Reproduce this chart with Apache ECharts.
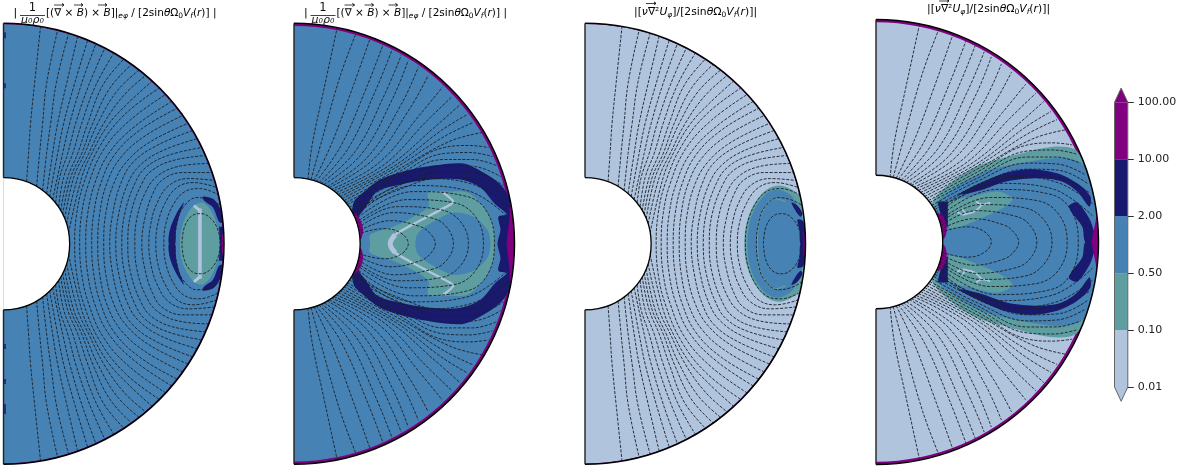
<!DOCTYPE html>
<html>
<head>
<meta charset="utf-8">
<style>
    html, body { margin: 0; padding: 0; background: #fff; }
    #chart { width: 1200px; height: 471px; }
</style>
</head>
<body>
<div id="chart"></div>
<script src="https://cdn.jsdelivr.net/npm/echarts@6/dist/echarts.min.js"></script>
<script>
// all points are [x, z], outer radius = 220, only the upper half is listed
const rInner = 66
const rOuter = 220

// field lines of panels 1 and 3
const linesFootA = [
    [[23,62],[25,90],[27,120],[31,160],[37,217]],
    [[33,57],[36,90],[39,120],[43,160],[54,213]],
    [[39,53],[43,90],[47,120],[53,162],[65,210]],
    [[43,50],[49,90],[54,120],[63,160],[74,207]],
    [[46,47],[54,90],[60,120],[71,160],[84,203]],
    [[49,44],[59,90],[66,120],[78,160],[92,199]],
    [[52,41],[56,66],[64,90],[72,120],[85,158],[101,195]],
    [[55,37],[60,66],[69,90],[78,120],[92,158],[110,190]],
    [[57,33],[64,66],[74,90],[84,120],[99,158],[120,184]],
    [[59,29],[67,66],[78,90],[89,120],[106,155],[128,179]],
    [[61,25],[70,66],[81,90],[94,120],[113,152],[135,173]],
    [[63,20],[74,66],[85,90],[100,120],[120,148],[142,168]],
    [[65,11],[78,66],[88,90],[104,118],[124,140],[148,162]]
]
const linesCrossA = [
    [[71,0],[73,30],[80,60],[96,97],[121,129],[155,155]],
    [[76,0],[78,30],[85,60],[100,94],[126,123],[162,149]],
    [[82,0],[84,30],[91,60],[105,90],[131,117],[168,142]],
    [[88,0],[90,30],[97,60],[111,89],[137,114],[173,135]],
    [[94,0],[96,30],[103,60],[117,86],[142,108],[179,128]],
    [[100,0],[102,30],[110,60],[123,82],[147,102],[184,120]],
    [[106,0],[109,30],[117,60],[129,81],[153,98],[189,113]],
    [[112,0],[115,30],[124,60],[136,78],[159,93],[194,105]],
    [[118,0],[121,30],[131,60],[142,76],[164,88],[198,96]],
    [[124,0],[127,30],[138,60],[148,73],[169,83],[202,88]],
    [[131,0],[133,25],[141,50],[153,67],[174,77],[205,80]],
    [[138,0],[141,25],[149,50],[159,64],[179,71],[208,71]],
    [[145,0],[147,20],[153,40],[165,58],[185,65],[211,63]],
    [[152,0],[154,20],[161,40],[173,56],[190,61],[213,56]],
    [[160,0],[162,20],[170,40],[181,52],[196,55],[214,49]],
    [[171,0],[173,20],[179,36],[193,46],[205,44],[217,38]],
    [[178,0],[181,18],[190,29],[197,30],[208,24],[215,10],[216,0],[215,-10],[208,-24],[197,-30],[190,-29],[181,-18],[178,0]]
]

// field lines of panels 2 and 4
const linesCrossB = [
    [[114,0],[106,11],[89,15],[65,10]],
    [[141,0],[136,10],[126,17],[96,23],[65,13]],
    [[159,0],[151,18],[136,26],[99,31],[64,16]],
    [[174,0],[166,22],[146,34],[103,37],[63,19]],
    [[189,0],[181,27],[159,41],[113,44],[62,21]],
    [[200,0],[193,31],[173,47],[119,52],[61,24]]
]
const linesFanB = [
    [[60,27],[119,58],[173,53],[214,26]],
    [[59,29],[129,65],[179,59],[214,38]],
    [[58,32],[100,52],[150,66],[180,64],[212,48]],
    [[57,34],[100,56],[150,72],[180,71],[209,58]],
    [[55,36],[100,60],[150,78],[180,77],[206,67]],
    [[53,39],[100,63],[150,84],[178,84],[202,78]],
    [[52,41],[100,66],[150,90],[175,91],[198,87]],
    [[50,43],[100,69],[150,96],[175,98],[194,96]],
    [[48,45],[100,72],[155,102],[188,111]],
    [[46,47],[100,75],[150,107],[179,121]],
    [[44,49],[99,77],[147,113],[173,129]],
    [[42,51],[95,78],[140,116],[166,139]],
    [[40,53],[90,79],[132,122],[158,147]],
    [[37,54],[85,81],[125,128],[148,156]],
    [[35,56],[79,84],[115,134],[134,168]],
    [[33,57],[73,86],[107,139],[124,176]],
    [[30,59],[67,89],[98,144],[114,183]],
    [[27,60],[61,92],[90,148],[107,188]],
    [[25,61],[54,95],[81,152],[98,194]],
    [[22,62],[47,98],[72,155],[89,199]],
    [[20,63],[38,101],[60,160],[76,205]],
    [[17,64],[28,104],[46,167],[62,210]],
    [[14,64],[18,98],[30,155],[43,215]]
]

// contour regions, panel 1
const p1Green = [[176,0],[179,20],[188,36],[198,41],[207,33],[214,15],[216,0]]
const p1NavyLeft = [[180,41],[172,29],[166,14],[165,0],[171,0],[172,14],[175,27]]
const p1NavyRight = [[199,47],[210,44],[218,31],[219,21],[215,22],[209,36],[200,43]]
const p1NavyRim = [[215,17],[222,17],[222,0],[216,0]]
const p1Purple = [[218,10],[222,10],[222,0],[218,0]]
const p1BarA = [[196,35],[196,0],[196,-35]]
const p1BarB = [[190,38],[196,33]]
const p1EdgeSpots = [[211,205],[160,155],[-100,-105],[-135,-140],[-160,-170]]

// contour regions, panel 2
const p2Navy = [[58,31],[60,42],[69,51],[86,64],[113,73],[139,78],[169,80],[189,71],[206,59],[214,47],[219,25],[220,0]]
const p2Blue = [[60,0],[62,22],[72,37],[83,52],[106,59],[136,64],[166,64],[186,56],[201,39],[211,31],[212,29],[204,27],[206,14],[203,0]]
const p2Green = [[76,0],[76,9],[96,16],[114,24],[134,37],[134,51],[153,52],[173,51],[189,37],[199,17],[200,0]]
const p2Core = [[121,0],[124,11],[139,22],[159,31],[179,27],[193,14],[196,0]]
const p2PurpleOut = [[216,50],[215,25],[212,0],[222,0],[222,50]]
const p2PurpleIn = [[60,30],[65,26],[69,14],[66,4],[55,4]]
const p2Ridge = [[96,0],[101,9],[118,19],[156,39],[159,42],[149,51]]
const p2RidgeNose = [[101,9],[96,0],[101,-9]]

// contour regions, panel 3
const p3Green = [[159,0],[161,20],[168,38],[180,53],[193,58],[206,54],[216,45],[219,25],[220,0]]
const p3Blue = [[162,0],[164,20],[170,36],[181,50],[193,54],[203,50],[208,45],[216,28],[220,0]]
const p3NavyA = [[206,41],[212,38],[217,30],[215,27],[210,33]]
const p3NavyB = [[212,24],[218,22],[220,0],[215,0],[214,14]]
const p3Arc = [[172,0],[173,21],[180,37],[190,45],[200,42]]
const p3Purple = [[218,12],[222,12],[222,0],[218,0]]

// contour regions, panel 4
const p4GreenOut = [[52,0],[56,40],[94,72],[134,85],[173,94],[196,92],[206,78],[219,50],[220,0]]
const p4Blue = [[55,0],[60,38],[104,68],[144,78],[181,83],[203,78],[218,55],[220,0]]
const p4NavyArc = [[82,47],[103,58],[127,68],[153,72],[179,68],[199,58],[212,45],[211,35],[199,50],[183,60],[160,63],[130,60],[103,51]]
const p4NavyBlob = [[191,36],[199,39],[211,23],[216,9],[218,0],[207,0],[204,15],[193,30]]
const p4GreenIn = [[70,38],[94,45],[120,50],[135,43],[128,35],[103,23],[74,13],[70,21]]
const p4NavyBlock = [[61,40],[71,40],[71,14],[65,22]]
const p4PurpleIn = [[60,28],[66,26],[70,14],[67,3],[55,3]]
const p4PurpleOut = [[222,28],[218,25],[213,0],[222,0]]
const p4TwigA = [[99,40],[105,37],[113,39]]
const p4TwigB = [[105,37],[97,30],[90,28],[85,33]]
const p4TwigC = [[79,30],[87,27],[90,28]]

// colour bar
const cbTicks = ['0.01', '0.10', '0.50', '2.00', '10.00', '100.00']
const cLight = '#b0c4de'
const cGreen = '#5f9ea0'
const cBlue = '#4682b4'
const cNavy = '#191970'
const cPurple = '#800080'
const cbColors = [cLight, cGreen, cBlue, cNavy, cPurple]

const grids = [], xAxes = [], yAxes = [], series = []

function mirrorClosed(pts) {
    const lower = pts.filter(p => p[1] !== 0).map(p => [p[0], -p[1]]).reverse()
    return pts.concat(lower)
}
function flip(pts) {
    return pts.map(p => [p[0], -p[1]])
}
function through(pts) {
    const lower = pts.filter(p => p[1] !== 0).map(p => [p[0], -p[1]]).reverse()
    return lower.concat(pts)
}

function customShape(g, z, render) {
    series.push({
        type: 'custom',
        coordinateSystem: 'cartesian2d',
        xAxisIndex: g,
        yAxisIndex: g,
        z: z,
        silent: true,
        animation: false,
        data: [[0, 0]],
        renderItem: render
    })
}
function fillPoly(g, pts, color, smooth) {
    customShape(g, 2, (p, api) => ({
        type: 'polygon',
        shape: { points: pts.map(q => api.coord(q)), smooth: smooth === undefined ? 0.3 : smooth },
        style: { fill: color }
    }))
}
function ring(g, z, r0, r, color) {
    customShape(g, z, (p, api) => {
        const c = api.coord([0, 0])
        return {
            type: 'sector',
            shape: {
                cx: c[0], cy: c[1],
                r0: api.size([r0, 0])[0], r: api.size([r, 0])[0],
                startAngle: -Math.PI / 2, endAngle: Math.PI / 2, clockwise: true
            },
            style: { fill: color }
        }
    })
}
function arcLine(g, r, color, width) {
    customShape(g, 6, (p, api) => {
        const c = api.coord([0, 0])
        return {
            type: 'arc',
            shape: {
                cx: c[0], cy: c[1], r: api.size([r, 0])[0],
                startAngle: -Math.PI / 2, endAngle: Math.PI / 2, clockwise: true
            },
            style: { stroke: color, lineWidth: width, fill: null }
        }
    })
}
function addLine(g, pts, style, z, smooth) {
    series.push({
        type: 'line',
        xAxisIndex: g,
        yAxisIndex: g,
        data: pts,
        z: z,
        smooth: smooth,
        clip: false,
        silent: true,
        animation: false,
        showSymbol: false,
        lineStyle: style
    })
}
function stroke(g, pts, color, width, smooth) {
    addLine(g, pts, { color: color, width: width, type: 'solid' }, 3, smooth === undefined ? 0.3 : smooth)
}

const dash = { color: '#1a2028', width: 1, type: [3, 1.5], opacity: 0.9 }

function addPanel(g, left, cy, R, base, rimFrom, fills, strokes, fam) {
    grids.push({ left: left, top: cy - R, width: R, height: 2 * R })
    xAxes.push({ gridIndex: g, type: 'value', min: 0, max: rOuter, show: false })
    yAxes.push({ gridIndex: g, type: 'value', min: -rOuter, max: rOuter, show: false })
    ring(g, 2, 0, rOuter, base)
    ring(g, 2, rimFrom, rOuter, cPurple)
    fills()
    strokes()
    if (fam === 'A') {
        linesFootA.forEach(l => {
            addLine(g, l, dash, 4, 0.4)
            addLine(g, flip(l), dash, 4, 0.4)
        })
        linesCrossA.forEach(l => addLine(g, l[l.length - 1][1] === 0 ? l : through(l), dash, 4, 0.4))
    } else {
        linesCrossB.forEach(l => addLine(g, through(l), dash, 4, 0.4))
        linesFanB.forEach(l => {
            addLine(g, l, dash, 4, 0.4)
            addLine(g, flip(l), dash, 4, 0.4)
        })
    }
    // anything past the two circles is painted back to white
    ring(g, 5, 0, rInner, '#fff')
    ring(g, 5, rOuter, rOuter + 8, '#fff')
    arcLine(g, rOuter, '#000', 1.5)
    arcLine(g, rInner, '#000', 1.3)
    customShape(g, 6, (p, api) => {
        const a = api.coord([0, rInner]), b = api.coord([0, rOuter])
        const c = api.coord([0, -rInner]), d = api.coord([0, -rOuter])
        return {
            type: 'group',
            children: [
                { type: 'line', shape: { x1: a[0], y1: a[1], x2: b[0], y2: b[1] }, style: { stroke: '#222', lineWidth: 1.4 } },
                { type: 'line', shape: { x1: c[0], y1: c[1], x2: d[0], y2: d[1] }, style: { stroke: '#222', lineWidth: 1.4 } }
            ]
        }
    })
}

function twin(g, pts, color, smooth) {
    fillPoly(g, pts, color, smooth)
    fillPoly(g, flip(pts), color, smooth)
}

addPanel(0, 3.5, 243.7, 220.5, cBlue, 219, () => {
    fillPoly(0, mirrorClosed(p1Green), cGreen)
    twin(0, p1NavyLeft, cNavy)
    twin(0, p1NavyRight, cNavy)
    twin(0, p1NavyRim, cNavy, 0)
    twin(0, p1Purple, cPurple, 0)
}, () => {
    stroke(0, p1BarA, cLight, 3.6, 0)
    stroke(0, p1BarB, cLight, 3, 0)
    stroke(0, flip(p1BarB), cLight, 3, 0)
    p1EdgeSpots.forEach(s => stroke(0, [[1.5, s[0]], [1.5, s[1]]], cNavy, 1.5, 0))
}, 'A')

addPanel(1, 294, 243.7, 220.5, cBlue, 217.3, () => {
    fillPoly(1, mirrorClosed(p2Navy), cNavy)
    fillPoly(1, mirrorClosed(p2Blue), cBlue)
    fillPoly(1, mirrorClosed(p2Green), cGreen)
    fillPoly(1, mirrorClosed(p2Core), cBlue)
    twin(1, p2PurpleOut, cPurple, 0)
    twin(1, p2PurpleIn, cPurple)
}, () => {
    stroke(1, through(p2Ridge), cLight, 2.4, 0.15)
    stroke(1, p2RidgeNose, cLight, 5, 0.4)
}, 'B')

addPanel(2, 585, 243.7, 220.5, cLight, 219.3, () => {
    fillPoly(2, mirrorClosed(p3Green), cGreen)
    fillPoly(2, mirrorClosed(p3Blue), cBlue)
    twin(2, p3NavyA, cNavy)
    twin(2, p3NavyB, cNavy)
    twin(2, p3Purple, cPurple, 0)
}, () => {
    stroke(2, through(p3Arc), cGreen, 1.4)
}, 'A')

addPanel(3, 876, 242, 222.5, cLight, 217.3, () => {
    fillPoly(3, mirrorClosed(p4GreenOut), cGreen)
    fillPoly(3, mirrorClosed(p4Blue), cBlue)
    twin(3, p4NavyArc, cNavy)
    twin(3, p4NavyBlob, cNavy)
    twin(3, p4GreenIn, cGreen)
    twin(3, p4NavyBlock, cNavy, 0)
    twin(3, p4PurpleIn, cPurple)
    twin(3, p4PurpleOut, cPurple, 0)
}, () => {
    [p4TwigA, p4TwigB, p4TwigC].forEach(t => {
        stroke(3, t, cLight, 1.8)
        stroke(3, flip(t), cLight, 1.8)
    })
}, 'B')

// colour bar grid
grids.push({ left: 1114.5, top: 102.3, width: 13.3, height: 284.7 })
xAxes.push({ gridIndex: 4, type: 'value', min: 0, max: 1, show: false })
yAxes.push({
    gridIndex: 4,
    type: 'value',
    min: 0,
    max: cbColors.length,
    interval: 1,
    position: 'right',
    splitLine: { show: false },
    axisLine: { show: false },
    axisTick: { show: false },
    axisLabel: {
        margin: 10,
        color: '#222',
        fontSize: 11,
        fontFamily: 'DejaVu Sans',
        formatter: v => cbTicks[v]
    }
})
cbColors.forEach((color, i) => {
    fillPoly(4, [[0, i], [1, i], [1, i + 1], [0, i + 1]], color, 0)
})
fillPoly(4, [[0, 5], [1, 5], [0.5, 5.25]], cPurple, 0)
fillPoly(4, [[0, 0], [1, 0], [0.5, -0.25]], cLight, 0)
customShape(4, 6, (p, api) => ({
    type: 'polygon',
    shape: { points: [[0, 0], [0.5, -0.25], [1, 0], [1, 5], [0.5, 5.25], [0, 5]].map(q => api.coord(q)) },
    style: { fill: null, stroke: '#666', lineWidth: 1 }
}))
// the ticks are drawn here since they have to sit right on the bar edge
customShape(4, 6, (p, api) => ({
    type: 'group',
    children: cbTicks.map((t, i) => {
        const a = api.coord([1, i])
        return {
            type: 'line',
            shape: { x1: a[0], y1: Math.round(a[1]) + 0.5, x2: a[0] + 6, y2: Math.round(a[1]) + 0.5 },
            style: { stroke: '#333', lineWidth: 1 }
        }
    })
}))

// titles
const font = 'DejaVu Sans'
function richFor(size) {
    return {
        n: { fontFamily: font, fontSize: size, color: '#111', lineHeight: 15 },
        i: { fontFamily: font, fontSize: size, fontStyle: 'italic', color: '#111', lineHeight: 15 },
        s: { fontFamily: font, fontSize: 7.5, color: '#111', verticalAlign: 'bottom', lineHeight: 8 },
        si: { fontFamily: font, fontSize: 7.5, fontStyle: 'italic', color: '#111', verticalAlign: 'bottom', lineHeight: 8 }
    }
}
const textCurl = '{n|[(\u2207 × }{i|B}{n|) × }{i|B}{n|]|}{si|e\u03C6}{n| / [2sin}{i|\u03B8}{n|\u03A9}{s|0}{i|V}{si|f}{n|(}{i|r}{n|)] |}'
const textVisc = '{n|\u007C[}{i|\u03BD}{n|\u2207\u00B2}{i|U}{si|\u03C6}{n|]/[2sin}{i|\u03B8}{n|\u03A9}{s|0}{i|V}{si|f}{n|(}{i|r}{n|)]|}'

function titleText(x, y, text, size) {
    return { type: 'text', x: x, y: y, z: 20, style: { text: text, rich: richFor(size), verticalAlign: 'middle', align: 'left' } }
}
function arrowOver(x1, x2, y) {
    return {
        type: 'polyline',
        z: 20,
        shape: { points: [[x1, y], [x2, y], [x2 - 2, y - 1.5], [x2, y], [x2 - 2, y + 1.5]] },
        style: { stroke: '#111', lineWidth: 0.8, fill: null }
    }
}
function fracTitle(shift) {
    return [
        titleText(13.5 + shift, 13, '{n|\u007C}', 11),
        { type: 'text', x: 32.5 + shift, y: 8, z: 20, style: { text: '1', fontFamily: font, fontSize: 11.5, fill: '#111', align: 'center', verticalAlign: 'middle' } },
        { type: 'line', z: 20, shape: { x1: 20 + shift, y1: 15.5, x2: 45 + shift, y2: 15.5 }, style: { stroke: '#111', lineWidth: 0.8 } },
        { type: 'text', x: 32.5 + shift, y: 20.5, z: 20, style: { text: '\u03BC\u2080\u03C1\u2080', fontFamily: font, fontStyle: 'italic', fontSize: 11, fill: '#111', align: 'center', verticalAlign: 'middle' } },
        titleText(46 + shift, 13, textCurl, 10.5),
        arrowOver(54 + shift, 64 + shift, 5),
        arrowOver(74 + shift, 83 + shift, 5),
        arrowOver(98 + shift, 107 + shift, 5)
    ]
}
const graphics = fracTitle(0).concat(fracTitle(290.5), [
    titleText(634, 12, textVisc, 10.8),
    arrowOver(646, 656, 3.5),
    titleText(927, 9, textVisc, 10.8),
    arrowOver(939, 949, 1)
])

const chart = echarts.init(document.getElementById('chart'), null, { renderer: 'canvas' })
chart.setOption({
    animation: false,
    backgroundColor: '#fff',
    grid: grids,
    xAxis: xAxes,
    yAxis: yAxes,
    series: series,
    graphic: graphics
})
</script>
</body>
</html>
